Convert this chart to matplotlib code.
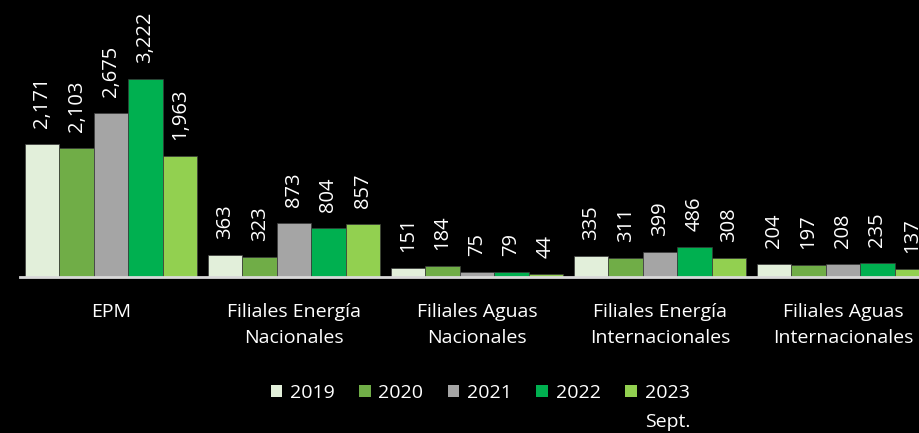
import numpy as np
import matplotlib.pyplot as plt
from matplotlib.patches import Patch

plt.rcParams['font.family'] = ['Open Sans', 'DejaVu Sans']

categories = ["EPM", "Filiales Energía\nNacionales", "Filiales Aguas\nNacionales",
              "Filiales Energía\nInternacionales", "Filiales Aguas\nInternacionales"]
years = ["2019", "2020", "2021", "2022", "2023"]
v2019 = [2171, 363, 151, 335, 204]
v2020 = [2103, 323, 184, 311, 197]
v2021 = [2675, 873, 75, 399, 208]
v2022 = [3222, 804, 79, 486, 235]
v2023 = [1963, 857, 44, 308, 137]
series = [v2019, v2020, v2021, v2022, v2023]
colors = ["#E2EFDA", "#70AD47", "#A5A5A5", "#00B050", "#92D050"]

fig = plt.figure(figsize=(9.19, 4.33), dpi=100, facecolor="black")
ax = fig.add_axes([20/919, 1 - 277/433, 899/919, 277/433])
ax.set_facecolor("black")

x = np.arange(len(categories))
w = 0.188
for i, vals in enumerate(series):
    pos = x + (i - 2) * w
    ax.bar(pos, vals, w, color=colors[i], edgecolor="#3a3a3a", linewidth=0.5)
    for p, v in zip(pos, vals):
        ax.annotate(f"{v:,}", (p, v), xytext=(0, 11.5), textcoords="offset points",
                    rotation=90, ha="center", va="bottom", color="white", fontsize=14.5)

ax.set_xlim(-0.497, 4.415)
ax.set_ylim(0, 4505)
for s in ["top", "right", "left"]:
    ax.spines[s].set_visible(False)
ax.spines["bottom"].set_color("#D9D9D9")
ax.spines["bottom"].set_linewidth(2)
ax.set_yticks([])
ax.set_xticks(x)
ax.set_xticklabels(categories, color="white", fontsize=14, linespacing=1.55)
ax.tick_params(axis="x", length=0, pad=19)

handles = [Patch(facecolor=c) for c in colors]
leg = fig.legend(handles, years, loc="center", bbox_to_anchor=(480/919, 1 - 393/433),
                 ncol=5, frameon=False, fontsize=14, labelcolor="white",
                 handlelength=0.6, handleheight=0.6, handletextpad=0.4, columnspacing=1.25,
                 borderpad=0)

# second line of the last legend label sits below "2023"
fig.canvas.draw()
bb = leg.get_texts()[-1].get_window_extent().transformed(fig.transFigure.inverted())
fig.text(bb.x0, bb.y0 - 0.025, "Sept.", color="white", fontsize=14, ha="left", va="top")

fig.savefig("out.png", dpi=100, facecolor="black")
